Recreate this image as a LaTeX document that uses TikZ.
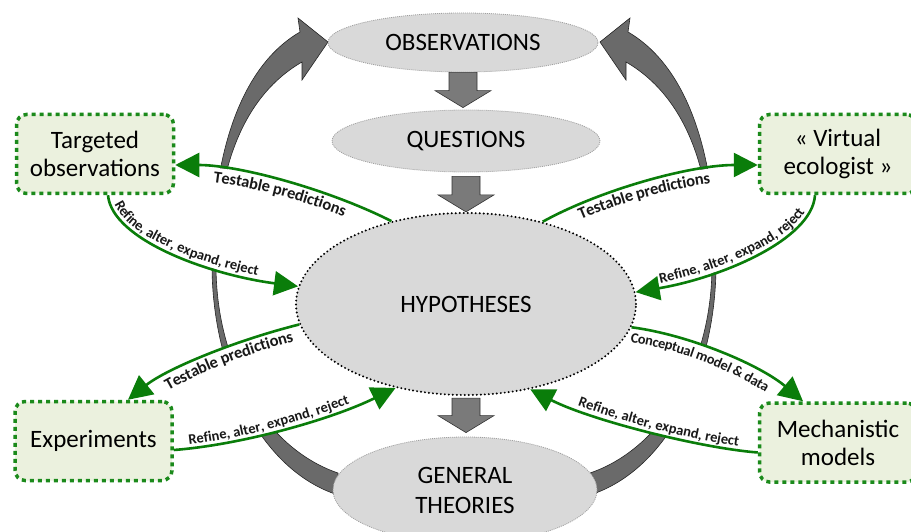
\documentclass[tikz,border=0pt]{standalone}
\usepackage{fontspec}
\setmainfont{Carlito}
\usetikzlibrary{shapes.geometric,arrows.meta,decorations.text,calc}
\pgfdeclarelayer{bgarc}
\pgfdeclarelayer{bgwhite}
\pgfsetlayers{bgarc,bgwhite,main}
\definecolor{ellfill}{HTML}{D9D9D9}
\definecolor{ellline}{HTML}{A0A0A0}
\definecolor{boxfill}{HTML}{EBF1DE}
\definecolor{gline}{HTML}{1B8A1B}
\definecolor{garrowcol}{HTML}{0A7D0A}
\definecolor{arcgray}{HTML}{6A6A6A}
\definecolor{blockgray}{HTML}{7A7A7A}
\newcommand\tpfont{\fontsize{16.5}{19}\selectfont\bfseries}
\newcommand\rffont{\fontsize{14.5}{17}\selectfont\bfseries}
\newcommand\cmfont{\fontsize{14.3}{17}\selectfont\bfseries}
\def\arcshape{(298,18) -- (328,42) -- (302,80) -- (302,62) .. controls (245,95) and (216,165) .. (216,265) .. controls (216,370) and (270,450) .. (338,473) -- (338,495) .. controls (260,470) and (212,370) .. (212,265) .. controls (212,160) and (238,68) .. (300,32) -- cycle}
\newcommand\blockarrow[2]{\draw[blockarr] let \p1=(#1), \p2=(#2) in (\x1-14pt,\y1) -- (\x1-14pt,\y2+17pt) -- (\x1-28pt,\y2+17pt) -- (\x1,\y2) -- (\x1+28pt,\y2+17pt) -- (\x1+14pt,\y2+17pt) -- (\x1+14pt,\y1) -- cycle;}
\tikzset{
  ell/.style={ellipse, fill=ellfill, draw=ellline, line width=0.8pt, dash pattern=on 1pt off 1pt, inner sep=0pt, font=\fontsize{25}{30}\selectfont, align=center},
  hypell/.style={ellipse, fill=ellfill, draw=black, line width=2.2pt, dash pattern=on 0pt off 4pt, line cap=round, inner sep=0pt, font=\fontsize{25}{30}\selectfont},
  gbox/.style={rectangle, rounded corners=10pt, fill=boxfill, draw=gline, line width=3.5pt, dash pattern=on 4pt off 4pt, minimum width=157pt, minimum height=79pt, align=center, font=\fontsize{25}{28}\selectfont},
  garr/.style={draw=garrowcol, line width=2.6pt, -{Triangle[length=24pt,width=24pt]}},
  blockarr/.style={fill=blockgray, draw=black!80, line width=0.6pt},
  arcfill/.style={fill=arcgray, draw=black!85, line width=0.6pt},
  lbl/.style={decorate, decoration={text along path, text color=black!90, #1}}
}
\begin{document}
\begin{tikzpicture}[x=1pt,y=-1pt]
\useasboundingbox (0,0) rectangle (911,532);
\clip (0,0) rectangle (911,532);
% nodes
\node[ell, minimum width=270pt, minimum height=59pt] (obs) at (463,42.5) {OBSERVATIONS};
\node[ell, minimum width=268pt, minimum height=62pt] (ques) at (466,141) {QUESTIONS};
\node[hypell, minimum width=340pt, minimum height=182pt] (hyp) at (466,304) {HYPOTHESES};
\node[ell, minimum width=264pt, minimum height=106pt] (gen) at (465,490) {GENERAL\\THEORIES};
\node[gbox] (targ) at (95,154) {Targeted\\observations};
\node[gbox] (virt) at (838,154) {« Virtual\\ecologist »};
\node[gbox] (exp) at (93.5,441) {Experiments};
\node[gbox] (mech) at (838,442.5) {Mechanistic\\models};
% big gray arcs
\begin{pgfonlayer}{bgarc}
\fill[white] (0,0) rectangle (911,532);
\draw[arcfill] \arcshape;
\begin{scope}[xshift=928pt,xscale=-1]
\draw[arcfill] \arcshape;
\end{scope}
\end{pgfonlayer}
% white regions between paired green arrows
\begin{pgfonlayer}{bgwhite}
\fill[white] (hyp.132.8) .. controls (330,190) and (240,165) .. ([yshift=-11pt]targ.east) -- ([xshift=13pt]targ.south) .. controls (112,240) and (210,275) .. (hyp.174.3) -- cycle;
\fill[white] (hyp.47.9) .. controls (600,190) and (690,165) .. ([yshift=-11pt]virt.west) -- ([xshift=-23pt]virt.south) .. controls (812,240) and (720,278) .. (hyp.4.2) -- cycle;
\fill[white] (hyp.187.1) .. controls (230,342) and (165,370) .. ([xshift=34.5pt]exp.north) -- ([yshift=-9pt]exp.east) .. controls (240,445) and (330,420) .. (hyp.230) -- cycle;
\fill[white] (hyp.352.2) .. controls (690,335) and (760,365) .. ([xshift=-35pt]mech.north) -- ([yshift=-10pt]mech.west) .. controls (700,448) and (590,420) .. (hyp.307.7) -- cycle;
\end{pgfonlayer}
% block arrows
\blockarrow{obs.south}{[yshift=2pt]ques.north}
\blockarrow{[yshift=-4pt]ques.south}{hyp.north}
\blockarrow{[yshift=-2pt]hyp.south}{[yshift=4pt]gen.north}
% green arrows
\draw[garr] (hyp.132.8) .. controls (330,190) and (240,165) .. ([yshift=-11pt]targ.east);
\draw[garr] ([xshift=13pt]targ.south) .. controls (112,240) and (210,275) .. (hyp.174.3);
\draw[garr] (hyp.47.9) .. controls (600,190) and (690,165) .. ([yshift=-11pt]virt.west);
\draw[garr] ([xshift=-23pt]virt.south) .. controls (812,240) and (720,278) .. (hyp.4.2);
\draw[garr] (hyp.187.1) .. controls (230,342) and (165,370) .. ([xshift=34.5pt]exp.north);
\draw[garr] ([yshift=-9pt]exp.east) .. controls (240,445) and (330,420) .. (hyp.230);
\draw[garr] (hyp.352.2) .. controls (690,335) and (760,365) .. ([xshift=-35pt]mech.north);
\draw[garr] ([yshift=-10pt]mech.west) .. controls (700,448) and (590,420) .. (hyp.307.7);
% labels
\path[lbl={text={|\tpfont|Testable predictions}, text align={left indent=40pt}, raise=-15pt}] ([yshift=-11pt]targ.east) .. controls (240,165) and (330,190) .. (hyp.132.8);
\path[lbl={text={|\rffont|Refine, alter, expand, reject}, text align={left indent=12pt}, raise=4pt}] ([xshift=13pt]targ.south) .. controls (112,240) and (210,275) .. (hyp.174.3);
\path[lbl={text={|\tpfont|Testable predictions}, text align={left indent=36pt}, raise=-15pt}] (hyp.47.9) .. controls (600,190) and (690,165) .. ([yshift=-11pt]virt.west);
\path[lbl={text={|\rffont|Refine, alter, expand, reject}, text align={left indent=26pt}, raise=4pt}] (hyp.4.2) .. controls (720,278) and (812,240) .. ([xshift=-23pt]virt.south);
\path[lbl={text={|\tpfont|Testable predictions}, text align={left indent=40pt}, raise=-15pt}] ([xshift=34.5pt]exp.north) .. controls (165,370) and (230,342) .. (hyp.187.1);
\path[lbl={text={|\rffont|Refine, alter, expand, reject}, text align={left indent=16pt}, raise=4pt}] ([yshift=-9pt]exp.east) .. controls (240,445) and (330,420) .. (hyp.230);
\path[lbl={text={|\cmfont|Conceptual model {\&} data}, text align={left indent=1pt}, raise=-15pt}] (hyp.352.2) .. controls (690,335) and (760,365) .. ([xshift=-35pt]mech.north);
\path[lbl={text={|\rffont|Refine, alter, expand, reject}, text align={left indent=50pt}, raise=4pt}] (hyp.307.7) .. controls (590,420) and (700,448) .. ([yshift=-10pt]mech.west);
\end{tikzpicture}
\end{document}
